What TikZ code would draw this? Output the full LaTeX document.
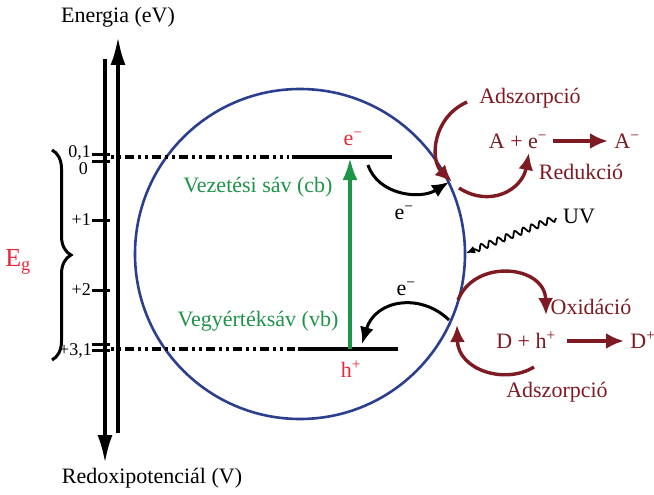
\documentclass[tikz,border=0pt]{standalone}
\usepackage{fontspec}
\setmainfont{Liberation Serif}
\usetikzlibrary{arrows.meta,decorations.pathreplacing,decorations.pathmorphing}
\definecolor{dred}{HTML}{7E1A22}
\definecolor{cblue}{HTML}{2B3F8E}
\definecolor{cgreen}{HTML}{1E9448}
\definecolor{tred}{HTML}{E8273A}
\tikzset{
  lbl/.style={font=\fontsize{22}{26}\selectfont, inner sep=0pt},
  small/.style={font=\fontsize{18}{21}\selectfont, inner sep=0pt},
  axis/.style={line width=3.4pt, -{Latex[length=28pt,width=15pt]}},
  tick/.style={line width=3pt},
  lvl/.style={line width=3.2pt},
  dlvl/.style={line width=3.2pt, dash pattern=on 3pt off 4pt on 3pt off 4pt on 9pt off 4pt},
  redarr/.style={dred, line width=3.4pt, -{Latex[length=17pt,width=15pt]}},
  blkarr/.style={black, line width=3pt, -{Latex[length=17pt,width=14pt]}},
  horarr/.style={dred, line width=4.5pt, -{Latex[length=18pt,width=16pt]}},
}
\begin{document}
\begin{tikzpicture}[x=1pt,y=-1pt]
\useasboundingbox (0,0) rectangle (654,495);
% axes
\coordinate (L0) at (105,59);
\coordinate (L1) at (105,463);
\coordinate (R0) at (118,433);
\coordinate (R1) at (118,37);
\draw[axis] (L0) -- (L1);
\draw[axis] (R0) -- (R1);
\node[lbl] (energia) at (118,17) {Energia (eV)};
\node[lbl] (redox) at (152,478) {Redoxipotenciál (V)};
% ticks
\foreach \yy/\nm in {154/ta,161/tb,220/tc,290/td,344/te,350/tf}{
  \coordinate (\nm1) at (92,\yy);
  \coordinate (\nm2) at (110,\yy);
  \draw[tick] (\nm1) -- (\nm2);
}
\node[small, anchor=east] (t01) at (91,153) {0,1};
\node[small, anchor=east] (t0) at (88,169) {0};
\node[small, anchor=east] (t1) at (91,220) {+1};
\node[small, anchor=east] (t2) at (91,290) {+2};
\node[small, anchor=east] (t31) at (92,351) {+3,1};
% brace
\coordinate (b0) at (52,150);
\coordinate (b1) at (52,360);
\draw[line width=3pt, decorate, decoration={brace, amplitude=19pt, mirror, aspect=0.5}] (b1) -- (b0);
\node[font=\fontsize{26}{30}\selectfont, inner sep=0pt, text=tred, anchor=east] (eg) at (31,262) {E\textsubscript{g}};
% circle
\node[draw=cblue, line width=2.6pt, circle, minimum size=330pt, inner sep=0pt] (part) at (300,254) {};
% levels
\coordinate (cb0) at (111,157);
\coordinate (cb1) at (289,157);
\coordinate (cb2) at (292,157);
\coordinate (cb3) at (392,157);
\draw[dlvl] (cb0) -- (cb1);
\draw[lvl] (cb2) -- (cb3);
\coordinate (vb0) at (111,349);
\coordinate (vb1) at (295,349);
\coordinate (vb2) at (298,349);
\coordinate (vb3) at (398,349);
\draw[dlvl] (vb0) -- (vb1);
\draw[lvl] (vb2) -- (vb3);
% excitation
\coordinate (g0) at (350,349);
\coordinate (g1) at (350,158);
\draw[cgreen, line width=3.6pt, -{Latex[length=22pt,width=15pt]}] (g0) -- (g1);
\node[lbl, text=tred] (em) at (353,139) {e\textsuperscript{\textminus}};
\node[lbl, text=tred] (hp) at (351,369) {h\textsuperscript{+}};
\node[lbl, text=cgreen] (cbt) at (258,187) {Vezetési sáv (cb)};
\node[lbl, text=cgreen] (vbt) at (258,321) {Vegyértéksáv (vb)};
% electron transfer arrows
\coordinate (u0) at (368,165);
\coordinate (u1) at (449,182);
\draw[blkarr] (u0) .. controls (378,195) and (420,200) .. (u1);
\node[lbl] (e1) at (404,213) {e\textsuperscript{\textminus}};
\coordinate (d0) at (449,320);
\coordinate (d1) at (362,344);
\draw[blkarr] (d0) .. controls (420,292) and (375,300) .. (d1);
\node[lbl] (e2) at (406,289) {e\textsuperscript{\textminus}};
% UV
\coordinate (uv0) at (556,218);
\coordinate (uv1) at (466,253);
\draw[line width=1.8pt, decorate, decoration={snake, amplitude=3pt, segment length=9pt, post length=6pt}, -{Latex[length=9pt,width=8pt]}] (uv0) -- (uv1);
\node[lbl, anchor=west] (uvt) at (563,216) {UV};
% reduction side
\node[lbl, text=dred] (ads1) at (530,98) {Adszorpció};
\coordinate (ra0) at (467,102);
\coordinate (ra1) at (452,182);
\draw[redarr] (ra0) .. controls (432,118) and (430,160) .. (ra1);
\coordinate (rb0) at (459,188);
\coordinate (rb1) at (529,153);
\draw[redarr] (rb0) .. controls (490,208) and (522,190) .. (rb1);
\node[lbl, text=dred] (ae) at (518,141) {A + e\textsuperscript{\textminus}};
\coordinate (h10) at (553,141);
\coordinate (h11) at (608,141);
\draw[horarr] (h10) -- (h11);
\node[lbl, text=dred] (am) at (627,141) {A\textsuperscript{\textminus}};
\node[lbl, text=dred] (red) at (581,172) {Redukció};
% oxidation side
\coordinate (oa0) at (458,300);
\coordinate (oa1) at (546,315);
\draw[redarr] (oa0) .. controls (475,258) and (545,265) .. (oa1);
\node[lbl, text=dred] (ox) at (591,307) {Oxidáció};
\node[lbl, text=dred] (dh) at (526,340) {D + h\textsuperscript{+}};
\coordinate (h20) at (567,341);
\coordinate (h21) at (624,341);
\draw[horarr] (h20) -- (h21);
\node[lbl, text=dred] (dp) at (643,340) {D\textsuperscript{+}};
\coordinate (ob0) at (534,367);
\coordinate (ob1) at (457,325);
\draw[redarr] (ob0) .. controls (505,385) and (458,370) .. (ob1);
\node[lbl, text=dred] (ads2) at (557,392) {Adszorpció};
\end{tikzpicture}
\end{document}
